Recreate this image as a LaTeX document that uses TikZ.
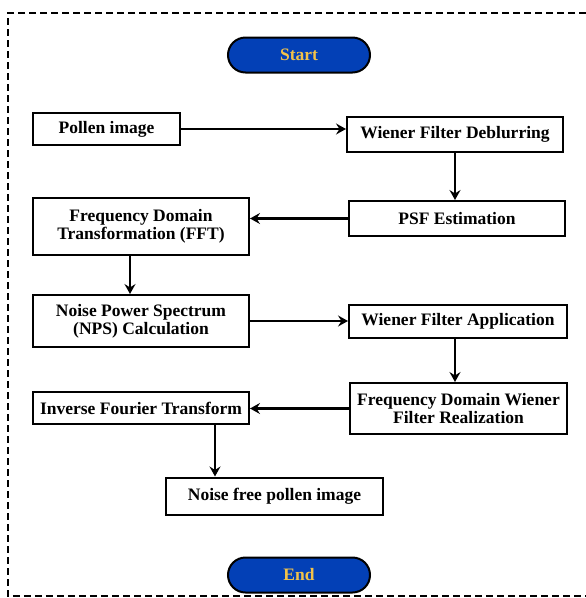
\documentclass[tikz,border=0pt]{standalone}
\usepackage{fontspec}
\setmainfont{Liberation Serif}
\usetikzlibrary{arrows.meta,shapes.misc}
\definecolor{termblue}{HTML}{0340B6}
\definecolor{termtext}{HTML}{F2C24A}
\begin{document}
\begin{tikzpicture}[x=1pt,y=-1pt,
  procbox/.style={draw=black,line width=2pt,fill=white,font=\fontsize{17.5}{18}\selectfont\bfseries,align=center,inner sep=0pt},
  term/.style={rounded rectangle,draw=black,line width=2pt,fill=termblue,text=termtext,font=\fontsize{17.5}{18}\selectfont\bfseries,minimum width=142pt,minimum height=35pt,inner sep=0pt},
  arr/.style={line width=2.4pt,-{Stealth[length=10pt,width=11pt,inset=3.5pt]}},
  frame/.style={line width=2.2pt,dash pattern=on 7pt off 4pt}]
\useasboundingbox (0,0) rectangle (586,598);
\coordinate (ftr) at (586,13);
\coordinate (ftl) at (8,13);
\coordinate (fbl) at (8,596);
\coordinate (fbr) at (586,596);
\draw[frame] (ftr) -- (ftl) -- (fbl) -- (fbr);

\node[term] (start) at (299,55) {Start};
\node[procbox,minimum width=147pt,minimum height=32pt] (pollen) at (106.5,129) {Pollen image};
\node[procbox,minimum width=216pt,minimum height=35pt] (wfd) at (455,134.5) {Wiener Filter Deblurring};
\node[procbox,minimum width=216pt,minimum height=35pt] (psf) at (457,218.5) {PSF Estimation};
\node[procbox,minimum width=216pt,minimum height=57pt] (fft) at (141,226.5) {Frequency Domain\\Transformation (FFT)};
\node[procbox,minimum width=216pt,minimum height=52pt] (nps) at (141,321) {Noise Power Spectrum\\(NPS) Calculation};
\node[procbox,minimum width=218pt,minimum height=33pt] (wfa) at (458,321.5) {Wiener Filter Application};
\node[procbox,minimum width=217pt,minimum height=51pt] (fdw) at (458.5,408.5) {Frequency Domain Wiener\\Filter Realization};
\node[procbox,minimum width=216pt,minimum height=32pt] (ift) at (141,408) {Inverse Fourier Transform};
\node[procbox,minimum width=217pt,minimum height=37pt] (nfp) at (274.5,496) {Noise free pollen image};
\node[term] (end) at (299,575) {End};

\draw[arr] (pollen.east) -- (pollen.east -| wfd.west);
\draw[arr] (wfd.south) -- (wfd.south |- psf.north);
\draw[arr] (psf.west) -- (psf.west -| fft.east);
\draw[arr] ([xshift=-11pt]fft.south) -- ([xshift=-11pt]fft.south |- nps.north);
\draw[arr] (nps.east) -- (nps.east -| wfa.west);
\draw[arr] ([xshift=-3pt]wfa.south) -- ([xshift=-3pt]wfa.south |- fdw.north);
\draw[arr] (fdw.west) -- (fdw.west -| ift.east);
\draw[arr] ([xshift=74pt]ift.south) -- ([xshift=74pt]ift.south |- nfp.north);
\end{tikzpicture}
\end{document}
